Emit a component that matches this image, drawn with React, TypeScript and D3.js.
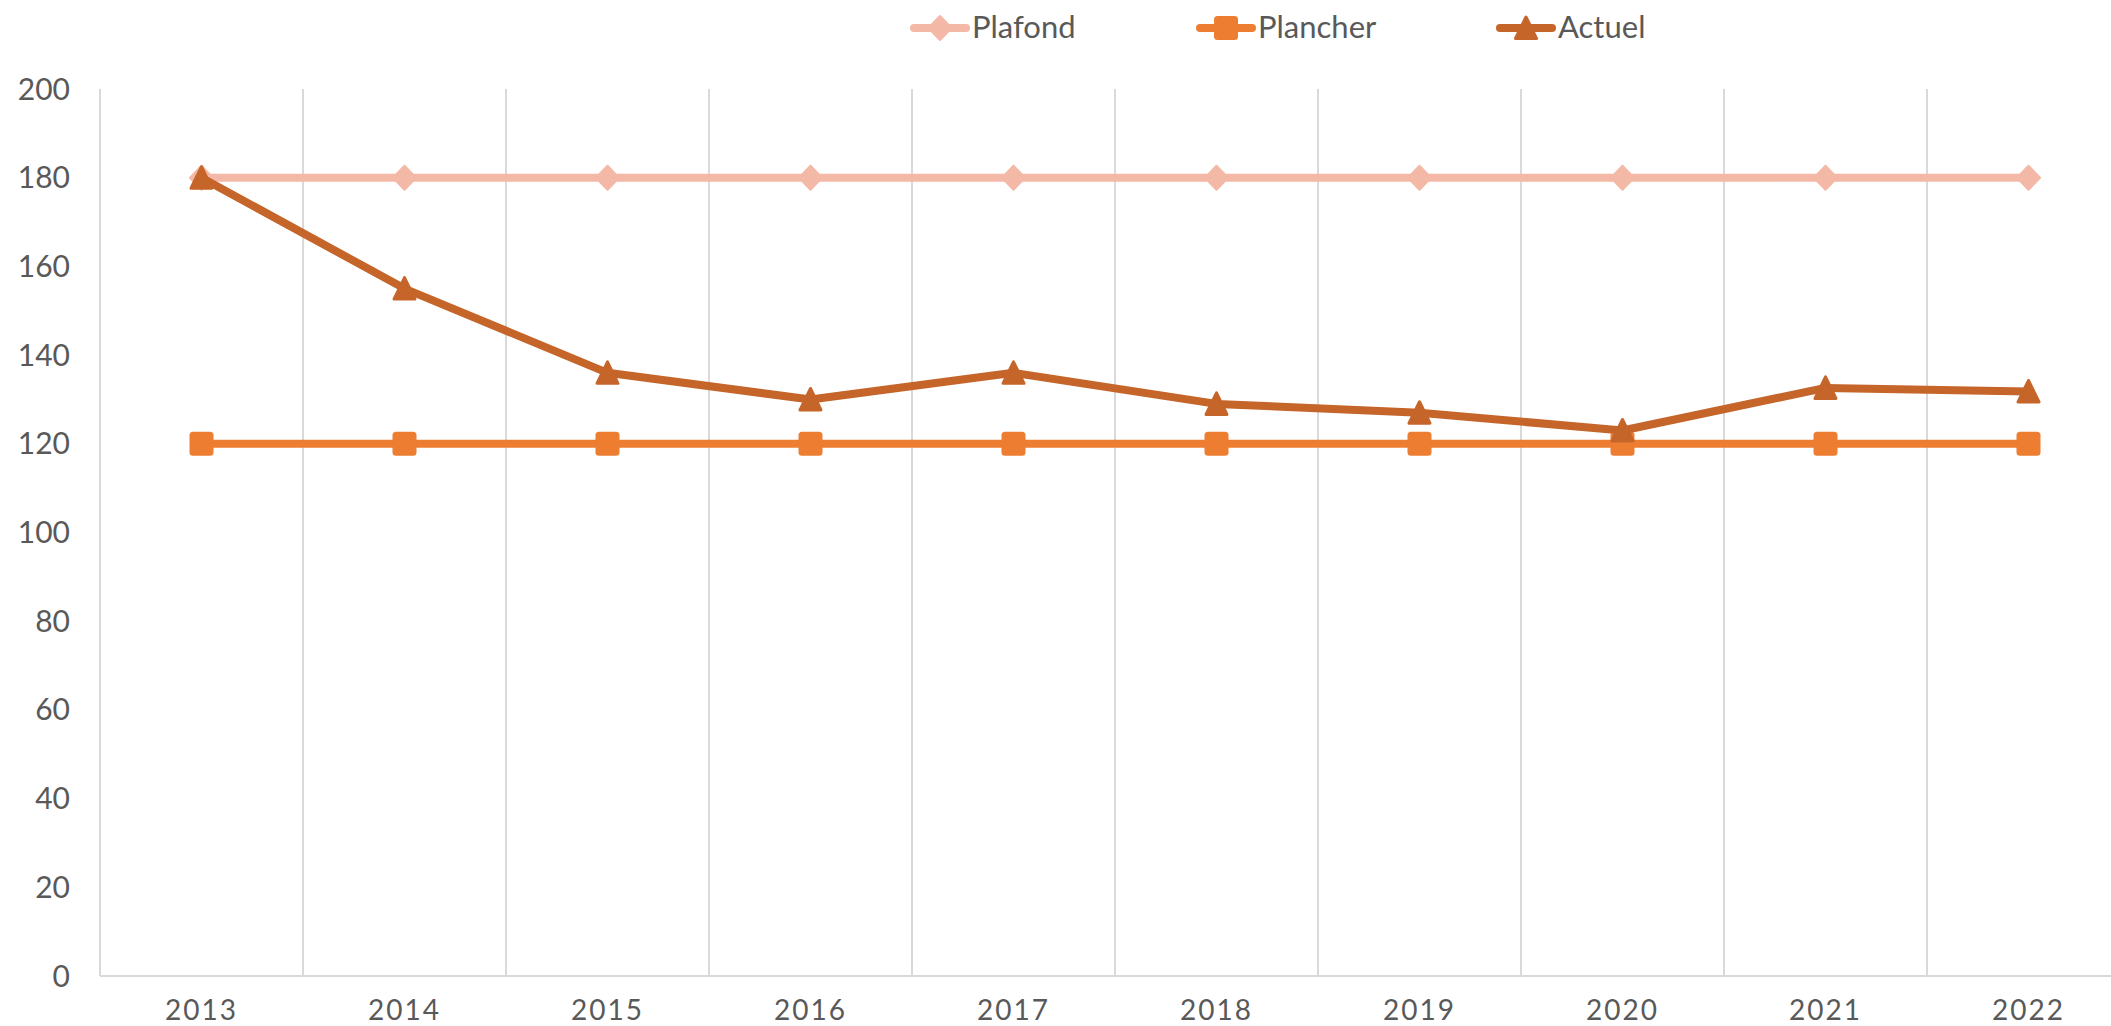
import React, { useEffect, useRef } from "react";
import * as d3 from "d3";

const years = ["2013", "2014", "2015", "2016", "2017", "2018", "2019", "2020", "2021", "2022"];
const plafond = [180, 180, 180, 180, 180, 180, 180, 180, 180, 180];
const plancher = [120, 120, 120, 120, 120, 120, 120, 120, 120, 120];
const actuel = [180, 155, 136, 130, 136, 129, 127, 123, 132.6, 131.8];
const yTicks = [0, 20, 40, 60, 80, 100, 120, 140, 160, 180, 200];

const seriesNames = ["Plafond", "Plancher", "Actuel"];
const seriesColors = ["#F4B9A6", "#ED7D31", "#C5652A"];
const seriesShapes = ["diamond", "square", "triangle"];

const FONT = "Lato, 'Open Sans', sans-serif";
const TEXT = "#595959";
const GRID = "#D9D9D9";

const Chart = () => {
  const ref = useRef<SVGSVGElement>(null);

  useEffect(() => {
    makeChart();
  }, []);

  const drawMarker = (g: any, shape: string, color: string) => {
    if (shape === "diamond") {
      g.append("path").attr("d", "M0,-12L11.5,0L0,12L-11.5,0Z").attr("fill", color)
        .attr("stroke", color).attr("stroke-width", 2).attr("stroke-linejoin", "round");
    } else if (shape === "square") {
      g.append("rect").attr("x", -12).attr("y", -12).attr("width", 24).attr("height", 24)
        .attr("rx", 3.5).attr("fill", color);
    } else {
      g.append("path").attr("d", "M0,-11L10.5,10.5L-10.5,10.5Z").attr("fill", color)
        .attr("stroke", color).attr("stroke-width", 3).attr("stroke-linejoin", "round");
    }
  };

  const makeChart = () => {
    const svg = d3.select(ref.current);
    svg.selectAll("*").remove();

    const left = 100;
    const top = 89;
    const bottom = 976;

    // plot runs past the right edge of the picture, like the original
    const x = d3.scaleBand().domain(years).range([left, left + 203 * years.length]);
    const y = d3.scaleLinear().domain([0, 200]).range([bottom, top]);

    // vertical gridlines between categories
    svg.append("g")
      .selectAll("line")
      .data(years.slice(1))
      .join("line")
      .attr("x1", (d) => x(d)!)
      .attr("x2", (d) => x(d)!)
      .attr("y1", top)
      .attr("y2", bottom)
      .attr("stroke", GRID)
      .attr("stroke-width", 2);

    // axes lines
    svg.append("line").attr("x1", left).attr("x2", left).attr("y1", top).attr("y2", bottom)
      .attr("stroke", GRID).attr("stroke-width", 2);
    svg.append("line").attr("x1", left).attr("x2", 2111).attr("y1", bottom).attr("y2", bottom)
      .attr("stroke", GRID).attr("stroke-width", 2);

    // y labels
    svg.append("g")
      .selectAll("text")
      .data(yTicks)
      .join("text")
      .attr("x", 70)
      .attr("y", (d) => y(d))
      .attr("dy", "0.35em")
      .attr("text-anchor", "end")
      .attr("font-family", FONT)
      .attr("font-size", 30)
      .attr("fill", TEXT)
      .text((d) => d);

    // x labels
    svg.append("g")
      .selectAll("text")
      .data(years)
      .join("text")
      .attr("x", (d) => x(d)! + x.bandwidth() / 2)
      .attr("y", 1020)
      .attr("text-anchor", "middle")
      .attr("font-family", FONT)
      .attr("font-size", 28)
      .attr("letter-spacing", 2)
      .attr("fill", TEXT)
      .text((d) => d);

    const allSeries = [plafond, plancher, actuel];
    const line = d3
      .line<number>()
      .x((d, i) => x(years[i])! + x.bandwidth() / 2)
      .y((d) => y(d));

    allSeries.forEach((data, s) => {
      const color = seriesColors[s];
      svg.append("path")
        .attr("d", line(data))
        .attr("fill", "none")
        .attr("stroke", color)
        .attr("stroke-width", 8)
        .attr("stroke-linejoin", "round")
        .attr("stroke-linecap", "round");
      data.forEach((v, i) => {
        const g = svg.append("g")
          .attr("transform", `translate(${x(years[i])! + x.bandwidth() / 2}, ${y(v)})`);
        drawMarker(g, seriesShapes[s], color);
      });
    });

    // legend
    const legendX = [911, 1197, 1497];
    seriesNames.forEach((name, s) => {
      const color = seriesColors[s];
      const lg = svg.append("g").attr("transform", `translate(${legendX[s]}, 28)`);
      lg.append("line").attr("x1", 3).attr("x2", 55).attr("y1", 0).attr("y2", 0)
        .attr("stroke", color).attr("stroke-width", 8).attr("stroke-linecap", "round");
      const m = lg.append("g").attr("transform", "translate(29, 0)");
      drawMarker(m, seriesShapes[s], color);
      lg.append("text")
        .attr("x", 61)
        .attr("y", 10)
        .attr("font-family", FONT)
        .attr("font-size", 31)
        .attr("fill", TEXT)
        .text(name);
    });
  };

  return (
    <svg
      ref={ref}
      width={2111}
      height={1026}
      style={{ position: "absolute", left: 0, top: 0, background: "#fff" }}
    ></svg>
  );
};

export default function App() {
  return <Chart />;
}
